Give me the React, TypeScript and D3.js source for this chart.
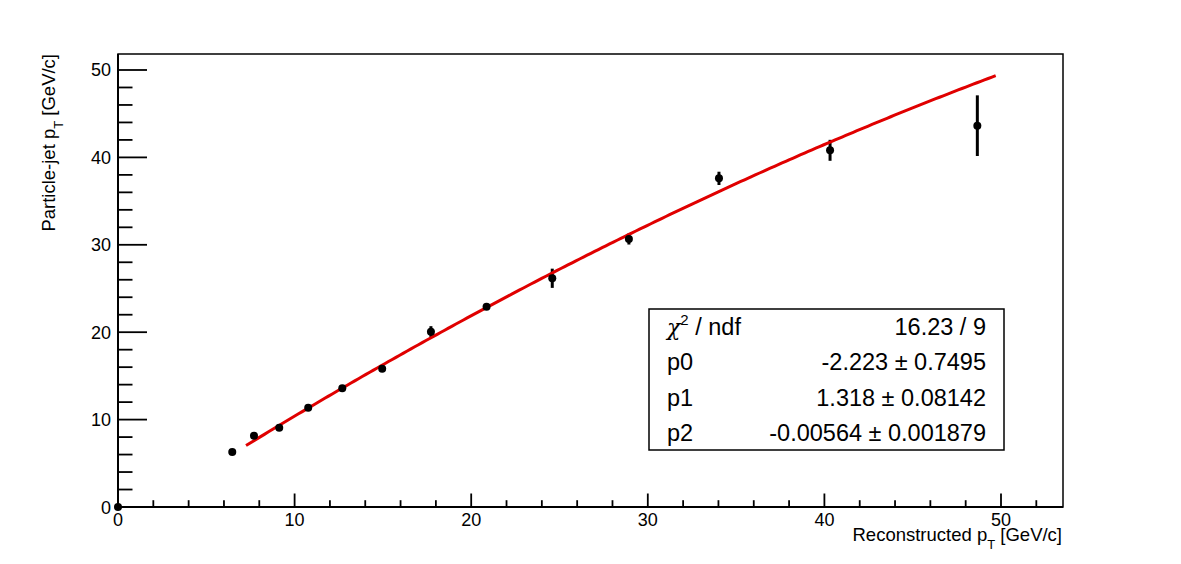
import React from "react";
import * as d3 from "d3";

// ---- data ----
const recoPt = [0, 6.47, 7.7, 9.13, 10.77, 12.7, 14.96, 17.72, 20.87, 24.59, 28.93, 34.03, 40.32, 48.66];
const particlePt = [0, 6.29, 8.16, 9.07, 11.36, 13.58, 15.83, 20.06, 22.92, 26.17, 30.66, 37.6, 40.81, 43.63];
const particlePtErr = [0, 0.2, 0.2, 0.2, 0.25, 0.25, 0.3, 0.63, 0.3, 1.1, 0.63, 0.76, 1.2, 3.47];

const fitParams = [-2.223, 1.318, -0.00564];
const fitRange = [7.25, 49.7];

const statsLabels = ["χ2 / ndf", "p0", "p1", "p2"];
const statsValues = ["16.23 / 9", "-2.223 ± 0.7495", "1.318 ± 0.08142", "-0.00564 ± 0.001879"];

const xMajorTicks = [0, 10, 20, 30, 40, 50];
const yMajorTicks = [0, 10, 20, 30, 40, 50];

const W = 1181;
const H = 564;
const FONT = "'Liberation Sans', Arial, Helvetica, sans-serif";

export default function App() {
  const left = 118, right = 1063, top = 54, bottom = 507;
  const x = d3.scaleLinear().domain([0, 53.5]).range([left, left + 53.5 * 17.66]);
  const y = d3.scaleLinear().domain([0, 51.83]).range([bottom, top]);

  const xMinor = d3.range(0, 53.5, 2).filter((v) => v % 10 !== 0);
  const yMinor = d3.range(0, 51.83, 2).filter((v) => v % 10 !== 0);

  const fitFn = (v: number) => fitParams[0] + fitParams[1] * v + fitParams[2] * v * v;
  const fitXs = d3.range(0, 201).map((i) => fitRange[0] + ((fitRange[1] - fitRange[0]) * i) / 200);
  const line = d3
    .line<number>()
    .x((d) => x(d))
    .y((d) => y(fitFn(d)));

  const yTickMajor = 29, yTickMinor = 14.5;
  const xTickMajor = 13.5, xTickMinor = 6.8;

  // stats box
  const bx0 = 649, bx1 = 1004, by0 = 309, by1 = 450;
  const rowH = (by1 - by0) / statsLabels.length;

  return (
    <svg
      width={W}
      height={H}
      style={{ position: "fixed", left: 0, top: 0, display: "block", background: "#fff" }}
      fontFamily={FONT}
    >
      <rect x={0} y={0} width={W} height={H} fill="#fff" />
      {/* frame */}
      <rect x={left} y={top} width={right - left} height={bottom - top} fill="none" stroke="#000" strokeWidth={1.5} />
      <line x1={left} x2={left} y1={top} y2={bottom} stroke="#000" strokeWidth={2} />
      <line x1={left} x2={right} y1={bottom} y2={bottom} stroke="#000" strokeWidth={2} />

      {/* y ticks */}
      {yMajorTicks.map((t) => (
        <g key={"ym" + t}>
          <line x1={left} x2={left + yTickMajor} y1={y(t)} y2={y(t)} stroke="#000" strokeWidth={1.8} />
          <text x={111} y={y(t) + 6.5} fontSize={18} textAnchor="end">
            {t}
          </text>
        </g>
      ))}
      {yMinor.map((t) => (
        <line key={"yn" + t} x1={left} x2={left + yTickMinor} y1={y(t)} y2={y(t)} stroke="#000" strokeWidth={1.8} />
      ))}

      {/* x ticks */}
      {xMajorTicks.map((t) => (
        <g key={"xm" + t}>
          <line x1={x(t)} x2={x(t)} y1={bottom} y2={bottom - xTickMajor} stroke="#000" strokeWidth={1.8} />
          <text x={x(t)} y={525.5} fontSize={18} textAnchor="middle">
            {t}
          </text>
        </g>
      ))}
      {xMinor.map((t) => (
        <line key={"xn" + t} x1={x(t)} x2={x(t)} y1={bottom} y2={bottom - xTickMinor} stroke="#000" strokeWidth={1.8} />
      ))}

      {/* axis titles */}
      <text x={1062} y={541} fontSize={18.5} textAnchor="end">
        Reconstructed p
        <tspan fontSize={13} dy={8}>T</tspan>
        <tspan dy={-8}> [GeV/c]</tspan>
      </text>
      <text transform={`translate(55,${top}) rotate(-90)`} fontSize={18.5} textAnchor="end">
        Particle-jet p
        <tspan fontSize={13} dy={8}>T</tspan>
        <tspan dy={-8}> [GeV/c]</tspan>
      </text>

      {/* error bars */}
      {recoPt.map((v, i) => (
        <line
          key={"e" + i}
          x1={x(v)}
          x2={x(v)}
          y1={y(particlePt[i] - particlePtErr[i])}
          y2={y(particlePt[i] + particlePtErr[i])}
          stroke="#000"
          strokeWidth={3}
        />
      ))}

      {/* fit curve */}
      <path d={line(fitXs) || ""} fill="none" stroke="#e00000" strokeWidth={3} />

      {/* markers */}
      {recoPt.map((v, i) => (
        <circle key={"p" + i} cx={x(v)} cy={y(particlePt[i])} r={4} fill="#000" />
      ))}

      {/* stats box */}
      <rect x={bx0} y={by0} width={bx1 - bx0} height={by1 - by0} fill="#fff" stroke="#000" strokeWidth={1.5} />
      {statsLabels.map((lab, i) => {
        const base = by0 + rowH * (i + 0.5) + 8.5;
        return (
          <g key={"s" + i}>
            {i === 0 ? (
              <text x={667} y={base} fontSize={23.5}>
                <tspan fontFamily="'DejaVu Serif', serif" fontStyle="italic" fontSize={22}>χ</tspan>
                <tspan fontSize={15} dy={-10}>2</tspan>
                <tspan dy={10}> / ndf</tspan>
              </text>
            ) : (
              <text x={667} y={base} fontSize={23.5}>
                {lab}
              </text>
            )}
            <text x={986} y={base} fontSize={23.5} textAnchor="end">
              {statsValues[i]}
            </text>
          </g>
        );
      })}
    </svg>
  );
}
